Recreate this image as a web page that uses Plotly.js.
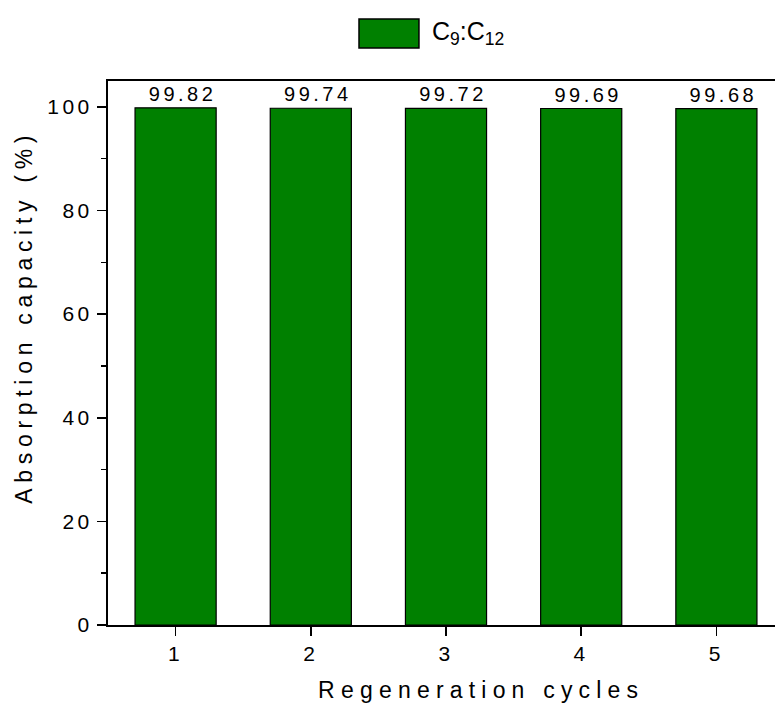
<!DOCTYPE html>
<html>
<head>
<meta charset="utf-8">
<script src="https://cdn.plot.ly/plotly-3.0.1.min.js"></script>
<style>
  html, body { margin: 0; padding: 0; overflow: hidden; background: #fff; }
  #chart { width: 792px; height: 709px; }
  .xtick text, .ytick text { letter-spacing: 3.5px; }
  .bartext { letter-spacing: 3.5px; }
</style>
</head>
<body>
<div id="chart"></div>
<script>
const categories = [1, 2, 3, 4, 5];
const capacity = [99.82, 99.74, 99.72, 99.69, 99.68];
const seriesName = 'C<sub>9</sub>:C<sub>12</sub>';
const yTickVals = [0, 20, 40, 60, 80, 100];
const xTitle = 'Regeneration cycles';
const yTitle = 'Absorption capacity (%)';

const FONT = 'Liberation Sans, Arial, sans-serif';
const GREEN = '#008000';

const trace = {
  type: 'bar',
  x: categories,
  y: capacity,
  name: seriesName,
  width: 0.6,
  marker: { color: GREEN, line: { color: '#000', width: 1.2 } },
  text: capacity.map(v => v.toFixed(2)),
  textposition: 'outside',
  constraintext: 'none',
  cliponaxis: false,
  textfont: { family: FONT, size: 20, color: '#000' },
  hoverinfo: 'skip'
};

const layout = {
  width: 792,
  height: 709,
  margin: { l: 108, r: 8, t: 81, b: 84 },
  paper_bgcolor: '#fff',
  plot_bgcolor: '#fff',
  showlegend: false,
  font: { family: FONT, color: '#000' },
  xaxis: {
    range: [0.5, 5.5],
    tickvals: categories,
    ticktext: categories.map(String),
    ticks: 'outside',
    ticklen: 9,
    tickwidth: 1.5,
    tickcolor: '#000',
    showline: true,
    linecolor: '#000',
    linewidth: 2,
    mirror: true,
    showgrid: false,
    zeroline: false,
    tickfont: { family: FONT, size: 21, color: '#000' }
  },
  yaxis: {
    range: [0, 105],
    tickvals: yTickVals,
    ticktext: yTickVals.map(String),
    ticks: 'outside',
    ticklen: 9,
    tickwidth: 1.5,
    tickcolor: '#000',
    minor: { dtick: 10, tick0: 10, ticks: 'outside', ticklen: 5, tickwidth: 1.5, tickcolor: '#000', showgrid: false },
    showline: true,
    linecolor: '#000',
    linewidth: 2,
    mirror: true,
    showgrid: false,
    zeroline: false,
    tickfont: { family: FONT, size: 21, color: '#000' }
  },
  shapes: [
    { type: 'rect', xref: 'paper', yref: 'paper', x0: 0.3713, x1: 0.460, y0: 1.0607, y1: 1.114,
      fillcolor: GREEN, line: { color: '#000', width: 1.5 } }
  ],
  annotations: [
    { xref: 'paper', yref: 'paper', x: 0.476, y: 1.088, xanchor: 'left', yanchor: 'middle',
      text: seriesName, showarrow: false, font: { family: FONT, size: 25, color: '#000' } },
    { xref: 'paper', yref: 'paper', x: 0.552, y: -0.1195, xanchor: 'center', yanchor: 'middle',
      text: xTitle, showarrow: false, font: { family: FONT, size: 23, color: '#000' } },
    { xref: 'paper', yref: 'paper', x: -0.124, y: 0.566, xanchor: 'center', yanchor: 'middle',
      textangle: -90, text: yTitle, showarrow: false, font: { family: FONT, size: 23, color: '#000' } }
  ]
};

Plotly.newPlot('chart', [trace], layout, { displayModeBar: false, staticPlot: true }).then(() => {
  document.querySelectorAll('.annotation-text').forEach(t => {
    if (t.textContent === xTitle) t.style.letterSpacing = '6.2px';
    if (t.textContent === yTitle) t.style.letterSpacing = '5.7px';
  });
  document.querySelectorAll('.bartext').forEach(t => {
    t.setAttribute('transform', 'translate(7,0) ' + (t.getAttribute('transform') || ''));
  });
});
</script>
</body>
</html>
